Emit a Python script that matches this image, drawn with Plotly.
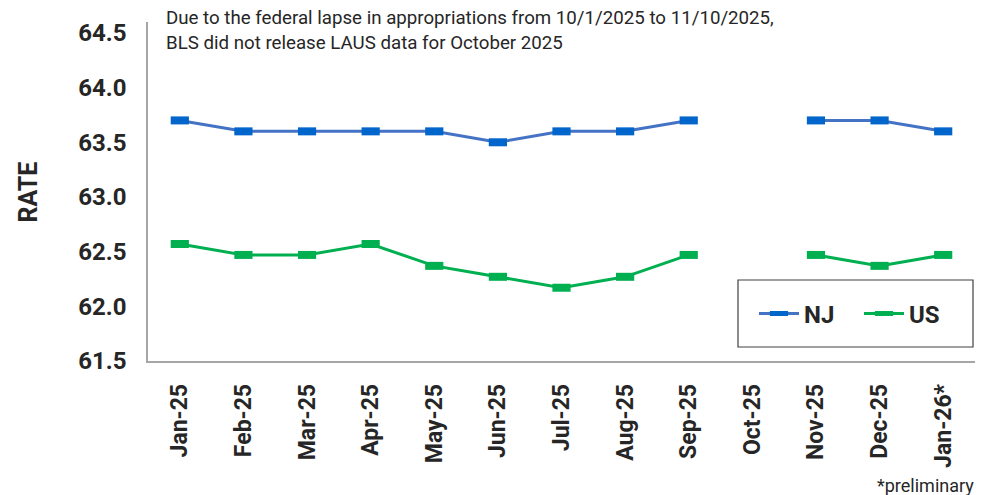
import plotly.graph_objects as go

months = ["Jan-25", "Feb-25", "Mar-25", "Apr-25", "May-25", "Jun-25", "Jul-25",
          "Aug-25", "Sep-25", "Oct-25", "Nov-25", "Dec-25", "Jan-26*"]
nj = [63.7, 63.6, 63.6, 63.6, 63.6, 63.5, 63.6, 63.6, 63.7, None, 63.7, 63.7, 63.6]
us = [62.57, 62.47, 62.47, 62.57, 62.37, 62.27, 62.17, 62.27, 62.47, None, 62.47, 62.37, 62.47]

note_lines = ["Due to the federal lapse in appropriations from 10/1/2025 to 11/10/2025,",
              "BLS did not release LAUS data for October 2025"]

# page has an 8px body margin; figure sized so it fits the 987x495 window
OFF = 8
W, H = 979, 487
L, R, T, B = 140, 12, 14, 134

fig = go.Figure()
fig.add_trace(go.Scatter(
    x=months, y=nj, name="NJ", mode="lines+markers", connectgaps=False,
    line=dict(color="#4472C4", width=3),
    marker=dict(symbol="line-ew", size=13, line=dict(width=8, color="#0066CC")),
))
fig.add_trace(go.Scatter(
    x=months, y=us, name="US", mode="lines+markers", connectgaps=False,
    line=dict(color="#00B050", width=3),
    marker=dict(symbol="line-ew", size=13, line=dict(width=8, color="#00B050")),
))

pw = W - L - R
ph = H - T - B
def px(x):  # page pixel -> paper fraction
    return (x - OFF - L) / pw
def py(y):
    return (H - B - (y - OFF)) / ph

TXT = "#262626"
annotations = []
for line_text, yc in zip(note_lines, [18, 43]):
    annotations.append(dict(text=line_text, xref="paper", yref="paper", x=px(164), y=py(yc),
                            xanchor="left", yanchor="middle", align="left", showarrow=False,
                            font=dict(size=18.7, family="Roboto", color=TXT)))
annotations += [
    dict(text="*preliminary", xref="paper", yref="paper", x=px(976), y=py(485),
         xanchor="right", yanchor="middle", showarrow=False,
         font=dict(size=18, family="Roboto", color=TXT)),
    dict(text="<b>RATE</b>", xref="paper", yref="paper", x=px(28), y=py(191.5),
         xanchor="center", yanchor="middle", textangle=-90, showarrow=False,
         font=dict(size=25, family="Roboto", color=TXT)),
]

fig.update_layout(
    width=W, height=H,
    margin=dict(l=L, r=R, t=T, b=B),
    paper_bgcolor="white", plot_bgcolor="white",
    font=dict(family="Roboto", color=TXT),
    showlegend=True,
    legend=dict(orientation="h", x=px(754), y=py(314), xanchor="left", yanchor="middle",
                font=dict(size=24, family="Roboto", weight="bold", color=TXT),
                bgcolor="rgba(0,0,0,0)", borderwidth=0, itemwidth=40, entrywidth=50),
    xaxis=dict(
        type="category", range=[-0.5, 12.5],
        showline=True, linecolor="#A6A6A6", linewidth=1.5,
        showgrid=False, ticks="", tickangle=-90, ticklabelstandoff=12,
        tickfont=dict(size=23, family="Roboto", weight="bold", color=TXT),
    ),
    yaxis=dict(
        range=[61.5, 64.6], dtick=0.5, tick0=61.5, tickformat=".1f",
        showline=True, linecolor="#A6A6A6", linewidth=1.5,
        showgrid=False, zeroline=False, ticks="", ticklabelstandoff=15,
        tickfont=dict(size=24, family="Roboto", weight="bold", color=TXT),
    ),
    shapes=[dict(type="rect", xref="paper", yref="paper",
                 x0=px(738), x1=px(973), y0=py(347), y1=py(280),
                 line=dict(color="#404040", width=1.2), fillcolor="rgba(0,0,0,0)")],
    annotations=annotations,
)

fig.write_html("out.html")
